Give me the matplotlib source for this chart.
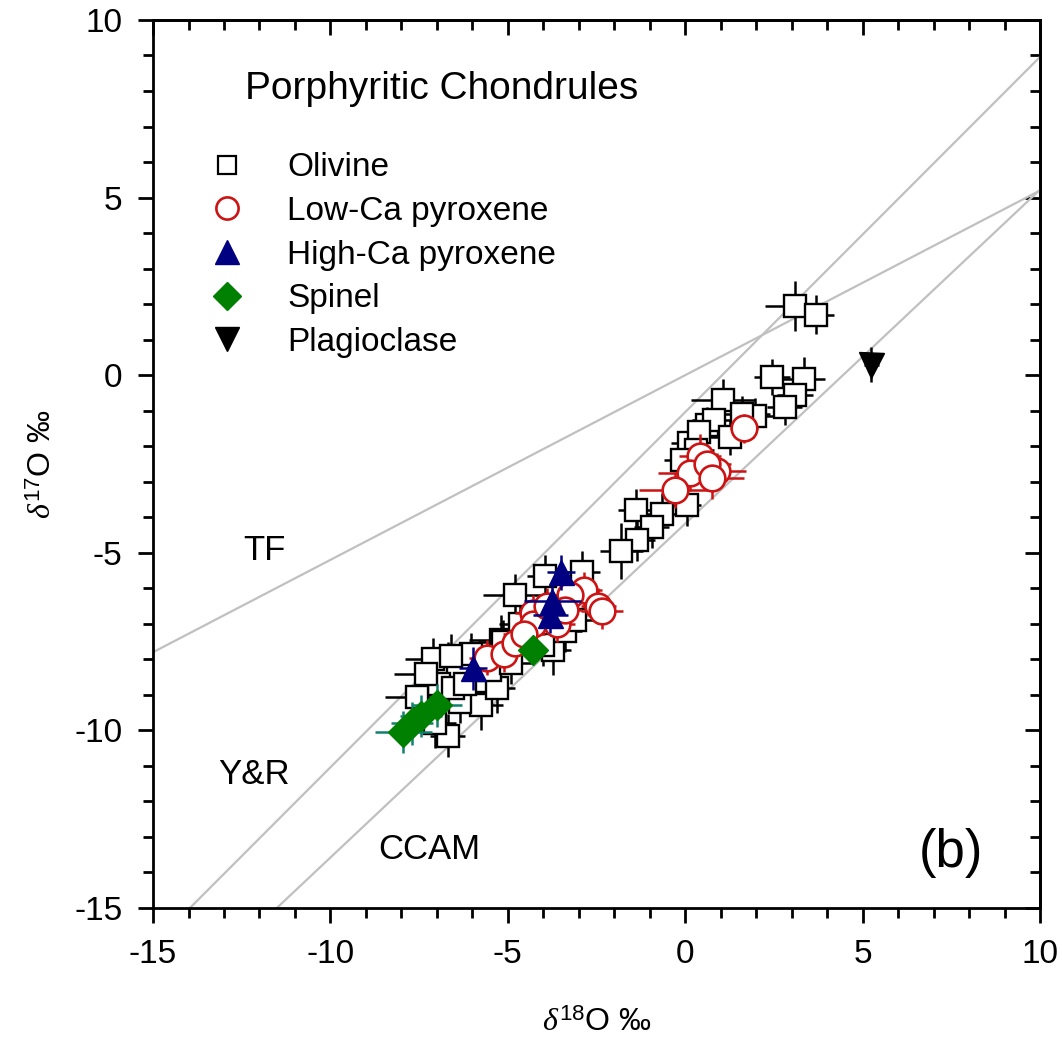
import matplotlib
matplotlib.use("Agg")
import matplotlib.pyplot as plt
from matplotlib.lines import Line2D
from matplotlib.ticker import MultipleLocator
import numpy as np

plt.rcParams['font.family'] = ['Liberation Sans', 'DejaVu Sans']
plt.rcParams['axes.unicode_minus'] = False
plt.rcParams['mathtext.fontset'] = 'custom'
plt.rcParams['mathtext.rm'] = 'Liberation Sans'
plt.rcParams['mathtext.it'] = 'Liberation Serif:italic'

# ---------------- data ----------------
olv_x = [3.1, 3.7, 2.45, 3.35, 3.1, 2.8,
         1.07, 1.97, 0.61, 0.8, 1.25, 0.1, 0.4, 1.6, 0.3, -0.1,
         -1.4, -0.65, 0.05, -0.95, -1.36, -1.8,
         -2.9, -3.95, -4.8, -3.73, -5.2, -4.65, -3.4, -3.1,
         -5.75, -6.35, -6.7, -6.7, -6.4, -6.95, -7.55, -6.55, -7.05, -5.15,
         -6.05, -5.8, -5.3, -7.1, -6.6, -4.4, -4.0, -5.5, -4.9, -6.2, -7.3]
olv_y = [1.95, 1.7, -0.05, -0.1, -0.55, -0.9,
         -0.7, -1.15, -1.4, -1.25, -1.75, -1.9, -1.6, -1.1, -2.1, -2.4,
         -3.8, -3.92, -3.65, -4.27, -4.64, -4.95,
         -5.54, -5.65, -6.19, -7.74, -7.45, -7.0, -7.2, -6.9,
         -9.3, -9.2, -10.15, -8.1, -8.4, -8.7, -9.05, -8.8, -9.8, -7.5,
         -7.85, -8.6, -8.8, -8.0, -7.9, -7.4, -7.6, -8.3, -8.1, -8.7, -8.4]
olv_xe = [0.85, 0.5, 0.5, 0.6, 0.5, 0.5,
          0.9, 0.6, 0.5, 0.6, 0.7, 0.5, 0.6, 0.8, 0.5, 0.5,
          0.5, 0.5, 0.4, 0.5, 0.5, 0.6,
          0.5, 0.5, 0.9, 0.5, 0.9, 0.6, 0.5, 0.5,
          0.6, 0.6, 0.5, 0.9, 0.5, 0.5, 0.9, 0.5, 0.6, 0.7,
          0.9, 0.6, 0.5, 0.8, 0.6, 0.5, 0.5, 0.6, 0.6, 0.5, 0.9]
olv_ye = [0.7, 0.55, 0.5, 0.6, 0.6, 0.5,
          0.6, 0.5, 0.5, 0.5, 0.5, 0.5, 0.5, 0.5, 0.5, 0.5,
          0.6, 0.6, 0.6, 0.6, 0.6, 0.8,
          0.6, 0.6, 0.6, 0.7, 0.7, 0.6, 0.6, 0.6,
          0.7, 0.6, 0.6, 0.6, 0.6, 0.7, 0.7, 0.6, 0.7, 0.6,
          0.6, 0.6, 0.7, 0.6, 0.6, 0.6, 0.6, 0.6, 0.6, 0.6, 0.7]

lpx_x = [1.65, 0.42, 0.13, 0.9, -0.3, 0.6, 0.75,
         -2.85, -3.25, -2.45, -2.35, -4.3, -4.3, -3.6, -3.4,
         -5.6, -5.1, -4.8, -4.55, -3.9]
lpx_y = [-1.5, -2.27, -2.76, -2.7, -3.23, -2.5, -2.9,
         -6.05, -6.2, -6.5, -6.65, -6.7, -7.0, -7.0, -6.6,
         -7.95, -7.85, -7.55, -7.3, -6.5]
lpx_xe = [0.4, 0.6, 0.9, 0.8, 1.0, 0.7, 0.9,
          0.5, 0.5, 0.5, 0.6, 0.5, 0.5, 0.5, 0.5,
          0.5, 0.5, 0.5, 0.6, 0.5]
lpx_ye = [0.4, 0.6, 0.5, 0.5, 0.5, 0.5, 0.6,
          0.5, 0.5, 0.5, 0.5, 0.5, 0.5, 0.5, 0.5,
          0.5, 0.5, 0.5, 0.5, 0.5]

hpx_x = [-3.5, -3.75, -3.8, -5.98]
hpx_y = [-5.55, -6.35, -6.75, -8.25]
hpx_xe = [0.4, 0.8, 0.5, 0.4]
hpx_ye = [0.5, 0.5, 0.5, 0.6]

spn_x = [-4.3, -7.0, -7.45, -7.7, -7.95]
spn_y = [-7.75, -9.3, -9.6, -9.8, -10.05]
spn_xe = [0.3, 0.7, 0.6, 0.6, 0.8]
spn_ye = [0.4, 0.6, 0.6, 0.6, 0.6]

plg_x = [5.25]
plg_y = [0.3]
plg_xe = [0.2]
plg_ye = [0.5]

# reference lines: (slope, intercept)
tf_line = (0.52, 0.0)
yr_line = (1.0, -1.04)
ccam_line = (0.94, -4.18)

# ---------------- figure ----------------
fig = plt.figure(figsize=(10.62, 10.51), dpi=100)
ax = fig.add_axes([0.1441, 0.1361, 0.8352, 0.8449])
ax.set_xlim(-15, 10)
ax.set_ylim(-15, 10)

xx = np.array([-15, 10])
gray = '#c0c0c0'
for s, b in (tf_line, yr_line, ccam_line):
    ax.plot(xx, s * xx + b, color=gray, lw=1.6, zorder=1)

ew = 1.8
ax.errorbar(olv_x, olv_y, xerr=olv_xe, yerr=olv_ye, fmt='s', ms=15.5,
            mfc='white', mec='black', mew=1.7, ecolor='black', elinewidth=ew,
            capsize=0, zorder=2)
ax.errorbar(lpx_x, lpx_y, xerr=lpx_xe, yerr=lpx_ye, fmt='o', ms=18.5,
            mfc='white', mec='#cc1414', mew=1.9, ecolor='#cc1414', elinewidth=ew,
            capsize=0, zorder=3)
ax.errorbar(hpx_x, hpx_y, xerr=hpx_xe, yerr=hpx_ye, fmt='^', ms=18,
            mfc='#000080', mec='#000080', mew=1, ecolor='#000080', elinewidth=ew,
            capsize=0, zorder=4)
ax.errorbar(spn_x, spn_y, xerr=spn_xe, yerr=spn_ye, fmt='D', ms=15,
            mfc='#008000', mec='#008000', mew=1, ecolor='#13806e', elinewidth=ew,
            capsize=0, zorder=5)
ax.errorbar(plg_x, plg_y, xerr=plg_xe, yerr=plg_ye, fmt='v', ms=18,
            mfc='black', mec='black', mew=1, ecolor='black', elinewidth=ew,
            capsize=0, zorder=5)

# legend
handles = [
    Line2D([], [], ls='none', marker='s', ms=13, mfc='white', mec='black', mew=1.6),
    Line2D([], [], ls='none', marker='o', ms=16, mfc='white', mec='#cc1414', mew=1.9),
    Line2D([], [], ls='none', marker='^', ms=17, mfc='#000080', mec='#000080'),
    Line2D([], [], ls='none', marker='D', ms=14, mfc='#008000', mec='#008000'),
    Line2D([], [], ls='none', marker='v', ms=17, mfc='black', mec='black'),
]
labels = ['Olivine', 'Low-Ca pyroxene', 'High-Ca pyroxene', 'Spinel', 'Plagioclase']
leg = ax.legend(handles, labels, loc='upper left', bbox_to_anchor=(0.05, 0.866),
                frameon=False, fontsize=24, handlelength=1.0, handletextpad=1.3,
                labelspacing=0.38, borderaxespad=0)

ax.text(-12.4, 8.05, 'Porphyritic Chondrules', fontsize=28, ha='left', va='center')
ax.text(-11.85, -4.95, 'TF', fontsize=25, ha='center', va='center')
ax.text(-12.15, -11.25, 'Y&R', fontsize=25, ha='center', va='center')
ax.text(-7.2, -13.35, 'CCAM', fontsize=25, ha='center', va='center')
ax.text(7.5, -13.45, '(b)', fontsize=38, ha='center', va='center')

# axes styling
for sp in ax.spines.values():
    sp.set_linewidth(2)
ax.xaxis.set_major_locator(MultipleLocator(5))
ax.xaxis.set_minor_locator(MultipleLocator(1))
ax.yaxis.set_major_locator(MultipleLocator(5))
ax.yaxis.set_minor_locator(MultipleLocator(1))
ax.tick_params(which='major', direction='out', length=11, width=2, labelsize=24, pad=11)
ax.tick_params(which='minor', direction='out', length=7, width=2)

secx = ax.secondary_xaxis('top')
secx.xaxis.set_major_locator(MultipleLocator(5))
secx.xaxis.set_minor_locator(MultipleLocator(1))
secx.tick_params(which='major', direction='in', length=11, width=2, labeltop=False)
secx.tick_params(which='minor', direction='in', length=7, width=2)
secx.spines['top'].set_linewidth(2)
secy = ax.secondary_yaxis('right')
secy.yaxis.set_major_locator(MultipleLocator(5))
secy.yaxis.set_minor_locator(MultipleLocator(1))
secy.tick_params(which='major', direction='in', length=11, width=2, labelright=False)
secy.tick_params(which='minor', direction='in', length=7, width=2)
secy.spines['right'].set_linewidth(2)

ax.set_xlabel(r'$\mathit{\delta}^{18}$O ‰', fontsize=23, labelpad=28)
ax.set_ylabel(r'$\mathit{\delta}^{17}$O ‰', fontsize=23, labelpad=12)

fig.savefig('out.png', dpi=100)
